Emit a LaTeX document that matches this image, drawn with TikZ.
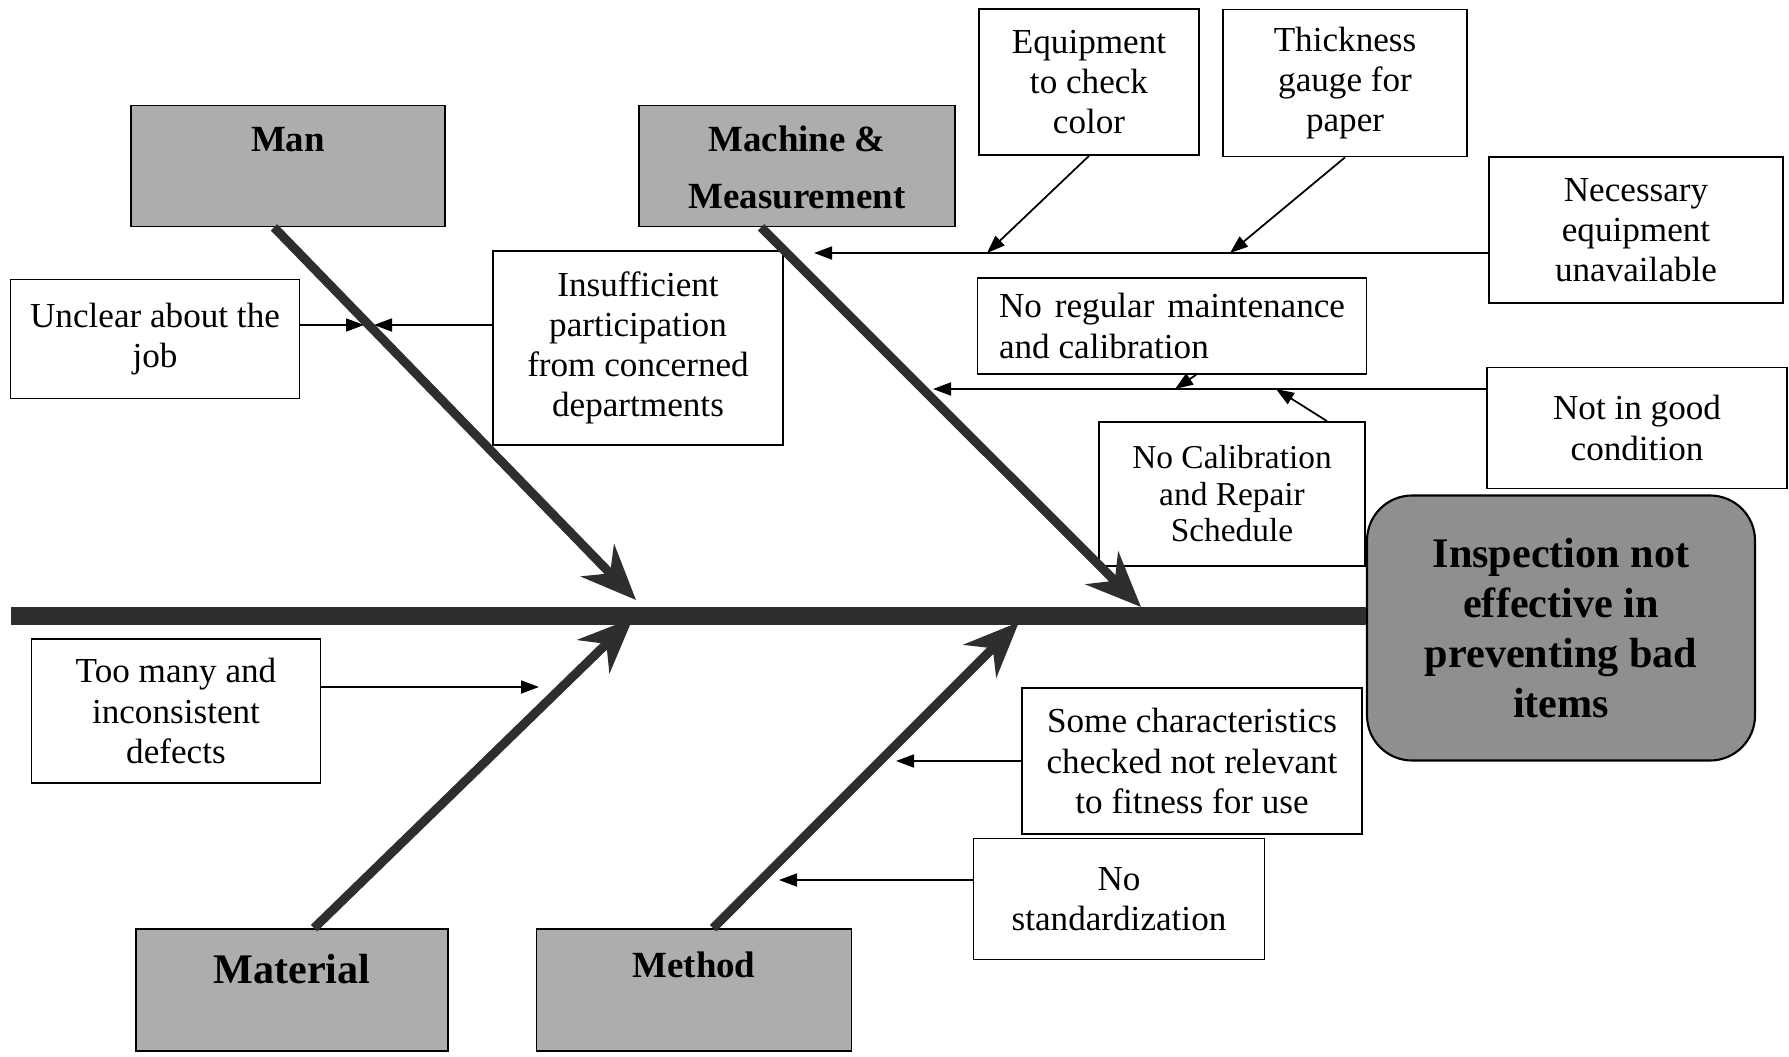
\documentclass[tikz,border=0pt]{standalone}
\usepackage{fontspec}
\setmainfont{Liberation Serif}
\usetikzlibrary{arrows.meta,positioning,calc}

\definecolor{catfill}{gray}{0.68}
\definecolor{efffill}{gray}{0.56}
\definecolor{bonecol}{gray}{0.18}

\begin{document}
\begin{tikzpicture}[x=0.1mm,y=-0.1mm,
  cause/.style={draw,line width=0.5pt,fill=white,align=center,inner sep=0pt,
    font=\fontsize{10}{11.4}\selectfont},
  cat/.style={draw,line width=0.5pt,fill=catfill,inner sep=0pt},
  cattext/.style={align=center,font=\fontsize{10.5}{16.2}\selectfont\bfseries},
  effect/.style={draw,line width=0.6pt,fill=efffill,rounded corners=4.5mm,align=center,
    inner sep=0pt,font=\fontsize{12}{14.2}\selectfont\bfseries},
  spine/.style={draw=bonecol,line width=1.8mm},
  bone/.style={draw=bonecol,line width=0.9mm,-{Stealth[length=5.5mm,width=4.6mm]}},
  twig/.style={draw,line width=0.5pt,-{Triangle[length=1.8mm,width=1.3mm]}}]
\useasboundingbox (0,0) rectangle (1789,1056);

\draw (1561,628) node[effect,minimum width=38.8mm,minimum height=26.5mm] (effect)
  {Inspection not\\effective in\\preventing bad\\items};
\coordinate (tail) at (11,616);
\path[spine] (tail) -- (tail -| effect.west);

\draw (288,166) node[cat,minimum width=31.4mm,minimum height=12.1mm] (man) {};
\draw (797,166) node[cat,minimum width=31.6mm,minimum height=12.1mm] (mach) {};
\draw (292,990) node[cat,minimum width=31.2mm,minimum height=12.2mm] (mat) {};
\draw (694,990) node[cat,minimum width=31.5mm,minimum height=12.2mm] (meth) {};
\draw (288,140) node[cattext] (mantext) {Man};
\draw (797,167) node[cattext] (machtext) {Machine \&\\Measurement};
\draw (292,969) node[cattext,font=\fontsize{12}{14}\selectfont\bfseries] (mattext) {Material};
\draw (694,965) node[cattext] (methtext) {Method};

\draw (155,339) node[cause,minimum width=28.9mm,minimum height=11.9mm] (unclear)
  {Unclear about the\\job};
\draw (638,348) node[cause,minimum width=29mm,minimum height=19.4mm] (insuf)
  {Insufficient\\participation\\from concerned\\departments};
\draw (1089,82) node[cause,minimum width=22mm,minimum height=14.6mm] (equip)
  {Equipment\\to check\\color};
\draw (1345,83) node[cause,minimum width=24.4mm,minimum height=14.7mm] (thick)
  {Thickness\\gauge for\\paper};
\draw (1636,230) node[cause,minimum width=29.4mm,minimum height=14.6mm] (nec)
  {Necessary\\equipment\\unavailable};
\draw (1172,326) node[cause,align=left,minimum width=38.9mm,minimum height=9.6mm] (noreg)
  {\makebox[34.6mm][s]{No regular maintenance}\\and calibration};
\draw (1637,428) node[cause,minimum width=30mm,minimum height=12.1mm] (notgood)
  {Not in good\\condition};
\draw (1232,494) node[cause,minimum width=26.6mm,minimum height=14.4mm,
  font=\fontsize{9.5}{10.4}\selectfont] (nocal)
  {No Calibration\\and Repair\\Schedule};
\draw (176,711) node[cause,minimum width=28.9mm,minimum height=14.4mm] (toomany)
  {Too many and\\inconsistent\\defects};
\draw (1192,761) node[cause,minimum width=34mm,minimum height=14.6mm] (somechar)
  {Some characteristics\\checked not relevant\\to fitness for use};
\draw (1119,899) node[cause,minimum width=29.1mm,minimum height=12.1mm] (nostd)
  {No\\standardization};

\coordinate (mantip) at (636,600);
\coordinate (machtip) at (1141,607);
\coordinate (mattip) at (633,618);
\coordinate (methtip) at (1019,622);
\path[bone] ($(man.south)+(-14,0)$) -- (mantip);
\path[bone] ($(mach.south)+(-36,0)$) -- (machtip);
\path[bone] ($(mat.north)+(22,0)$) -- (mattip);
\path[bone] ($(meth.north)+(19,0)$) -- (methtip);

\coordinate (m1) at (369,325);
\coordinate (m2) at (814,253);
\coordinate (m2a) at (987,253);
\coordinate (m2b) at (1230,253);
\coordinate (m3) at (933,389);
\coordinate (m3a) at (1175,389);
\coordinate (m3b) at (1276,389);
\coordinate (m4) at (539,687);
\coordinate (m5) at (896,761);
\coordinate (m6) at (779,880);
\path[twig,shorten >=0.5mm] (unclear.east |- m1) -- (m1);
\path[twig,shorten >=0.5mm] (insuf.west |- m1) -- (m1);
\path[twig] (nec.west |- m2) -- (m2);
\path[twig] (equip.south) -- (m2a);
\path[twig] (thick.south) -- (m2b);
\path[twig] (notgood.west |- m3) -- (m3);
\path[twig] ($(noreg.south)+(24,0)$) -- (m3a);
\path[twig] ($(nocal.north)+(95,0)$) -- (m3b);
\path[twig] (toomany.east |- m4) -- (m4);
\path[twig] (somechar.west |- m5) -- (m5);
\path[twig] (nostd.west |- m6) -- (m6);
\end{tikzpicture}
\end{document}
